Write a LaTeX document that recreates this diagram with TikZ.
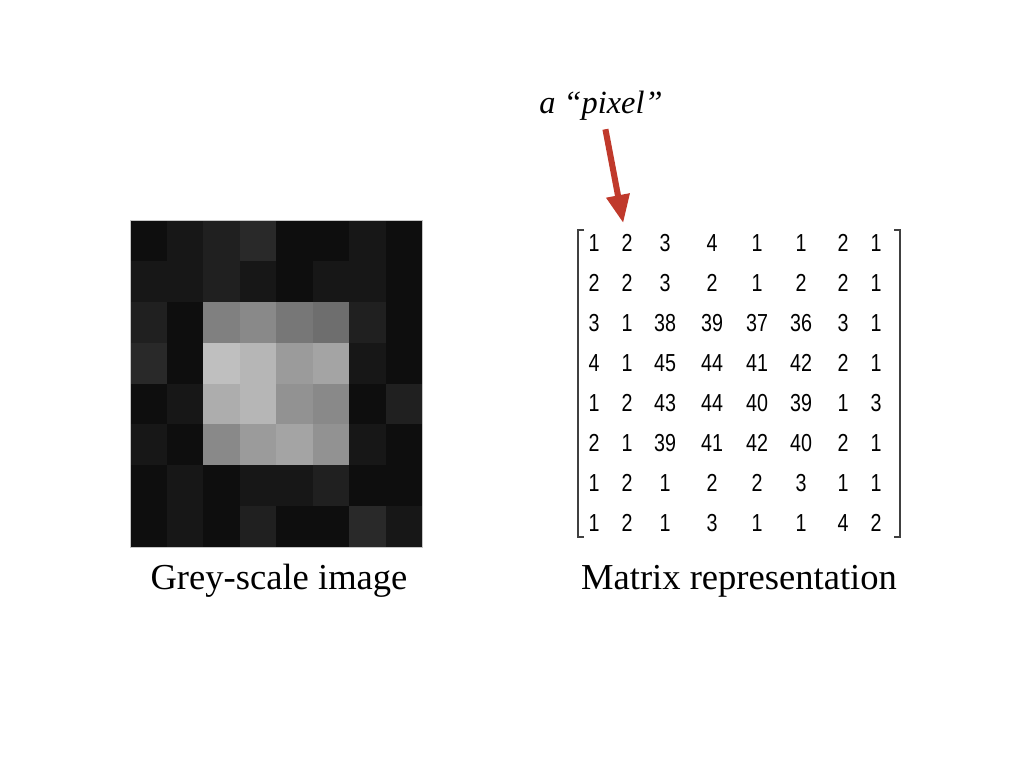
\documentclass[tikz,border=0pt]{standalone}
\usepackage{fontspec}
\setmainfont{Liberation Serif}
\newfontfamily\matfont[FakeStretch=0.8]{Liberation Sans}
\usepackage{tikz}
\usetikzlibrary{shapes, arrows.meta, positioning, calc}
\definecolor{pixelred}{RGB}{192,57,43}

\begin{document}
\begin{tikzpicture}[x=0.025cm, y=-0.025cm,
    entry/.style={font=\matfont\fontsize{17.5}{20}\selectfont, inner sep=1pt},
    caption/.style={font=\fontsize{26}{30}\selectfont, anchor=base},
    pixelarrow/.style={pixelred, line width=4.3pt,
        -{Triangle[length=20pt,width=16pt]}, shorten <=5pt, shorten >=7pt}]
    \useasboundingbox (0,0) rectangle (1024,768);

    % Imagem em tons de cinza + matriz
    \foreach \row [count=\r] in {{1,2,3,4,1,1,2,1},{2,2,3,2,1,2,2,1},
        {3,1,38,39,37,36,3,1},{4,1,45,44,41,42,2,1},{1,2,43,44,40,39,1,3},
        {2,1,39,41,42,40,2,1},{1,2,1,2,2,3,1,1},{1,2,1,3,1,1,4,2}} {
        \foreach \v [count=\c] in \row {
            \pgfmathtruncatemacro{\g}{\v<10 ? 9*\v+5 : 9*\v-214}
            \definecolor{cellgrey}{RGB}{\g,\g,\g}
            \pgfmathsetmacro{\px}{130+(\c-1)*36.5}
            \pgfmathsetmacro{\py}{220+(\r-1)*40.875}
            \fill[cellgrey] (\px,\py) rectangle ++(36.5,40.875);
            \pgfmathsetmacro{\ex}{{594,627,665,712,757,801,843,876}[\c-1]}
            \node[entry] (e-\r-\c) at (\ex,{243+(\r-1)*40}) {\v};
        }
    }
    \draw[gray!45, line width=0.6pt] (130,220) rectangle (422,547);

    % Colchetes
    \draw[black!75, line width=1pt] (584,230) -- (578,230) -- (578,537) -- (584,537);
    \draw[black!75, line width=1pt] (894,230) -- (900,230) -- (900,537) -- (894,537);

    % Legendas
    \node[caption] (capimg) at (279,589) {Grey-scale image};
    \node[caption] (capmat) at (739,589) {Matrix representation};

    % Seta do pixel
    \node[font=\itshape\fontsize{23}{27}\selectfont, inner sep=1pt] (lbl) at (601,106) {a “pixel”};
    \draw[pixelarrow] (lbl) -- (e-1-2);
\end{tikzpicture}
\end{document}
